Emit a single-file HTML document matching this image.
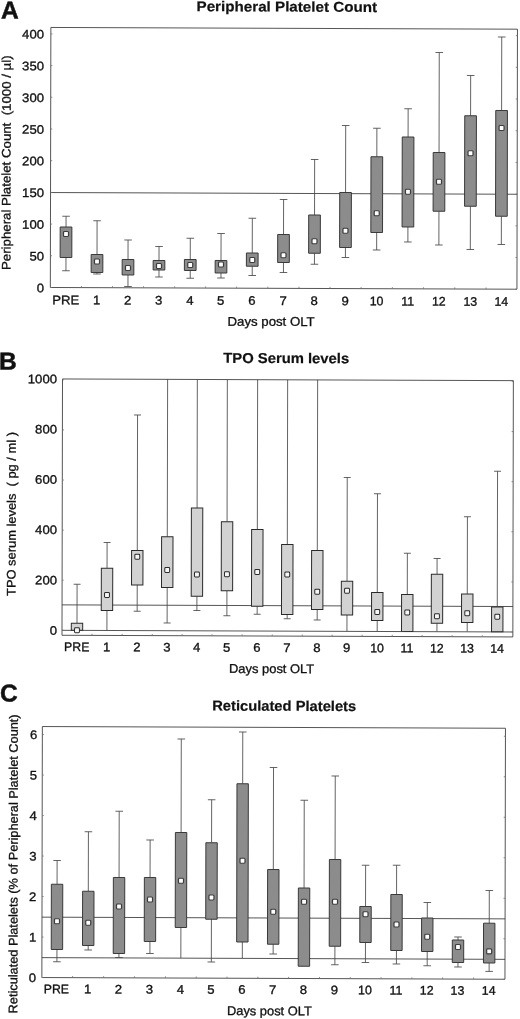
<!DOCTYPE html>
<html lang="en"><head><meta charset="utf-8"><title>Figure</title>
<style>
html,body{margin:0;padding:0;background:#fff;}
body{width:520px;height:1019px;overflow:hidden;}
svg{display:block;font-family:"Liberation Sans", Arial, Helvetica, sans-serif;fill:#111;}
text{stroke:#111;stroke-width:0.32px;}
text.b{font-weight:bold;stroke-width:0.2px;}
text.L{font-weight:bold;stroke-width:0.5px;}
</style></head><body>
<svg width="520" height="1019" viewBox="0 0 520 1019">
<rect x="0" y="0" width="520" height="1019" fill="#ffffff"/>
<g transform="matrix(1 0.0037 -0.002 1 1.0200 -0.9620)">
<text class="L" transform="translate(-0.08 19.36) scale(1 1)" font-size="24.5" text-anchor="start">A</text>
<text class="b" transform="translate(285.80 11.50)" font-size="14.3" text-anchor="middle" textLength="180.5" lengthAdjust="spacingAndGlyphs">Peripheral Platelet Count</text>
<line x1="49.90" y1="193.31" x2="516.50" y2="193.31" stroke="#363636" stroke-width="0.85"/>
<line x1="65.47" y1="216.97" x2="65.47" y2="227.72" stroke="#484848" stroke-width="0.85"/>
<line x1="61.67" y1="216.97" x2="69.27" y2="216.97" stroke="#484848" stroke-width="0.85"/>
<line x1="65.47" y1="258.22" x2="65.47" y2="271.47" stroke="#484848" stroke-width="0.85"/>
<line x1="61.67" y1="271.47" x2="69.27" y2="271.47" stroke="#484848" stroke-width="0.85"/>
<rect x="59.62" y="227.72" width="11.70" height="30.50" fill="#8c8c8c" stroke="#333" stroke-width="0.95"/>
<rect x="62.97" y="232.22" width="5.0" height="5.0" rx="0.9" fill="#fff" stroke="#3c3c3c" stroke-width="1.2"/>
<line x1="96.51" y1="221.36" x2="96.51" y2="255.10" stroke="#484848" stroke-width="0.85"/>
<line x1="92.71" y1="221.36" x2="100.31" y2="221.36" stroke="#484848" stroke-width="0.85"/>
<line x1="96.51" y1="273.10" x2="96.51" y2="274.60" stroke="#484848" stroke-width="0.85"/>
<line x1="92.71" y1="274.60" x2="100.31" y2="274.60" stroke="#484848" stroke-width="0.85"/>
<rect x="90.66" y="255.10" width="11.70" height="18.00" fill="#8c8c8c" stroke="#333" stroke-width="0.95"/>
<rect x="94.01" y="259.60" width="5.0" height="5.0" rx="0.9" fill="#fff" stroke="#3c3c3c" stroke-width="1.2"/>
<line x1="127.52" y1="240.49" x2="127.52" y2="259.99" stroke="#484848" stroke-width="0.85"/>
<line x1="123.72" y1="240.49" x2="131.32" y2="240.49" stroke="#484848" stroke-width="0.85"/>
<line x1="127.52" y1="275.49" x2="127.52" y2="286.99" stroke="#484848" stroke-width="0.85"/>
<line x1="123.72" y1="286.99" x2="131.32" y2="286.99" stroke="#484848" stroke-width="0.85"/>
<rect x="121.67" y="259.99" width="11.70" height="15.50" fill="#8c8c8c" stroke="#333" stroke-width="0.95"/>
<rect x="125.02" y="265.99" width="5.0" height="5.0" rx="0.9" fill="#fff" stroke="#3c3c3c" stroke-width="1.2"/>
<line x1="158.51" y1="246.88" x2="158.51" y2="260.88" stroke="#484848" stroke-width="0.85"/>
<line x1="154.71" y1="246.88" x2="162.31" y2="246.88" stroke="#484848" stroke-width="0.85"/>
<line x1="158.51" y1="270.38" x2="158.51" y2="277.38" stroke="#484848" stroke-width="0.85"/>
<line x1="154.71" y1="277.38" x2="162.31" y2="277.38" stroke="#484848" stroke-width="0.85"/>
<rect x="152.66" y="260.88" width="11.70" height="9.50" fill="#8c8c8c" stroke="#333" stroke-width="0.95"/>
<rect x="156.01" y="263.88" width="5.0" height="5.0" rx="0.9" fill="#fff" stroke="#3c3c3c" stroke-width="1.2"/>
<line x1="189.76" y1="238.51" x2="189.76" y2="259.76" stroke="#484848" stroke-width="0.85"/>
<line x1="185.96" y1="238.51" x2="193.56" y2="238.51" stroke="#484848" stroke-width="0.85"/>
<line x1="189.76" y1="270.76" x2="189.76" y2="278.51" stroke="#484848" stroke-width="0.85"/>
<line x1="185.96" y1="278.51" x2="193.56" y2="278.51" stroke="#484848" stroke-width="0.85"/>
<rect x="183.91" y="259.76" width="11.70" height="11.00" fill="#8c8c8c" stroke="#333" stroke-width="0.95"/>
<rect x="187.26" y="262.76" width="5.0" height="5.0" rx="0.9" fill="#fff" stroke="#3c3c3c" stroke-width="1.2"/>
<line x1="220.51" y1="233.65" x2="220.51" y2="260.65" stroke="#484848" stroke-width="0.85"/>
<line x1="216.71" y1="233.65" x2="224.31" y2="233.65" stroke="#484848" stroke-width="0.85"/>
<line x1="220.51" y1="273.15" x2="220.51" y2="278.15" stroke="#484848" stroke-width="0.85"/>
<line x1="216.71" y1="278.15" x2="224.31" y2="278.15" stroke="#484848" stroke-width="0.85"/>
<rect x="214.66" y="260.65" width="11.70" height="12.50" fill="#8c8c8c" stroke="#333" stroke-width="0.95"/>
<rect x="218.01" y="262.15" width="5.0" height="5.0" rx="0.9" fill="#fff" stroke="#3c3c3c" stroke-width="1.2"/>
<line x1="251.75" y1="218.28" x2="251.75" y2="253.03" stroke="#484848" stroke-width="0.85"/>
<line x1="247.95" y1="218.28" x2="255.55" y2="218.28" stroke="#484848" stroke-width="0.85"/>
<line x1="251.75" y1="266.28" x2="251.75" y2="275.53" stroke="#484848" stroke-width="0.85"/>
<line x1="247.95" y1="275.53" x2="255.55" y2="275.53" stroke="#484848" stroke-width="0.85"/>
<rect x="245.90" y="253.03" width="11.70" height="13.25" fill="#8c8c8c" stroke="#333" stroke-width="0.95"/>
<rect x="249.25" y="257.53" width="5.0" height="5.0" rx="0.9" fill="#fff" stroke="#3c3c3c" stroke-width="1.2"/>
<line x1="282.98" y1="199.42" x2="282.98" y2="234.42" stroke="#484848" stroke-width="0.85"/>
<line x1="279.18" y1="199.42" x2="286.78" y2="199.42" stroke="#484848" stroke-width="0.85"/>
<line x1="282.98" y1="262.41" x2="282.98" y2="272.41" stroke="#484848" stroke-width="0.85"/>
<line x1="279.18" y1="272.41" x2="286.78" y2="272.41" stroke="#484848" stroke-width="0.85"/>
<rect x="277.13" y="234.42" width="11.70" height="28.00" fill="#8c8c8c" stroke="#333" stroke-width="0.95"/>
<rect x="280.48" y="252.66" width="5.0" height="5.0" rx="0.9" fill="#fff" stroke="#3c3c3c" stroke-width="1.2"/>
<line x1="313.95" y1="159.30" x2="313.95" y2="214.80" stroke="#484848" stroke-width="0.85"/>
<line x1="310.15" y1="159.30" x2="317.75" y2="159.30" stroke="#484848" stroke-width="0.85"/>
<line x1="313.95" y1="253.05" x2="313.95" y2="264.05" stroke="#484848" stroke-width="0.85"/>
<line x1="310.15" y1="264.05" x2="317.75" y2="264.05" stroke="#484848" stroke-width="0.85"/>
<rect x="308.10" y="214.80" width="11.70" height="38.25" fill="#8c8c8c" stroke="#333" stroke-width="0.95"/>
<rect x="311.45" y="238.55" width="5.0" height="5.0" rx="0.9" fill="#fff" stroke="#3c3c3c" stroke-width="1.2"/>
<line x1="344.92" y1="125.19" x2="344.92" y2="192.19" stroke="#484848" stroke-width="0.85"/>
<line x1="341.12" y1="125.19" x2="348.72" y2="125.19" stroke="#484848" stroke-width="0.85"/>
<line x1="344.92" y1="247.19" x2="344.92" y2="257.19" stroke="#484848" stroke-width="0.85"/>
<line x1="341.12" y1="257.19" x2="348.72" y2="257.19" stroke="#484848" stroke-width="0.85"/>
<rect x="339.07" y="192.19" width="11.70" height="55.00" fill="#8c8c8c" stroke="#333" stroke-width="0.95"/>
<rect x="342.42" y="227.94" width="5.0" height="5.0" rx="0.9" fill="#fff" stroke="#3c3c3c" stroke-width="1.2"/>
<line x1="376.12" y1="127.82" x2="376.12" y2="156.32" stroke="#484848" stroke-width="0.85"/>
<line x1="372.32" y1="127.82" x2="379.92" y2="127.82" stroke="#484848" stroke-width="0.85"/>
<line x1="376.12" y1="232.07" x2="376.12" y2="249.57" stroke="#484848" stroke-width="0.85"/>
<line x1="372.32" y1="249.57" x2="379.92" y2="249.57" stroke="#484848" stroke-width="0.85"/>
<rect x="370.27" y="156.32" width="11.70" height="75.75" fill="#8c8c8c" stroke="#333" stroke-width="0.95"/>
<rect x="373.62" y="210.32" width="5.0" height="5.0" rx="0.9" fill="#fff" stroke="#3c3c3c" stroke-width="1.2"/>
<line x1="407.34" y1="108.21" x2="407.34" y2="136.46" stroke="#484848" stroke-width="0.85"/>
<line x1="403.54" y1="108.21" x2="411.14" y2="108.21" stroke="#484848" stroke-width="0.85"/>
<line x1="407.34" y1="226.45" x2="407.34" y2="241.45" stroke="#484848" stroke-width="0.85"/>
<line x1="403.54" y1="241.45" x2="411.14" y2="241.45" stroke="#484848" stroke-width="0.85"/>
<rect x="401.49" y="136.46" width="11.70" height="90.00" fill="#8c8c8c" stroke="#333" stroke-width="0.95"/>
<rect x="404.84" y="188.70" width="5.0" height="5.0" rx="0.9" fill="#fff" stroke="#3c3c3c" stroke-width="1.2"/>
<line x1="438.34" y1="51.84" x2="438.34" y2="151.84" stroke="#484848" stroke-width="0.85"/>
<line x1="434.54" y1="51.84" x2="442.14" y2="51.84" stroke="#484848" stroke-width="0.85"/>
<line x1="438.34" y1="210.59" x2="438.34" y2="244.34" stroke="#484848" stroke-width="0.85"/>
<line x1="434.54" y1="244.34" x2="442.14" y2="244.34" stroke="#484848" stroke-width="0.85"/>
<rect x="432.49" y="151.84" width="11.70" height="58.75" fill="#8c8c8c" stroke="#333" stroke-width="0.95"/>
<rect x="435.84" y="178.59" width="5.0" height="5.0" rx="0.9" fill="#fff" stroke="#3c3c3c" stroke-width="1.2"/>
<line x1="469.80" y1="74.72" x2="469.80" y2="114.97" stroke="#484848" stroke-width="0.85"/>
<line x1="466.00" y1="74.72" x2="473.60" y2="74.72" stroke="#484848" stroke-width="0.85"/>
<line x1="469.80" y1="205.47" x2="469.80" y2="248.72" stroke="#484848" stroke-width="0.85"/>
<line x1="466.00" y1="248.72" x2="473.60" y2="248.72" stroke="#484848" stroke-width="0.85"/>
<rect x="463.95" y="114.97" width="11.70" height="90.50" fill="#8c8c8c" stroke="#333" stroke-width="0.95"/>
<rect x="467.30" y="149.97" width="5.0" height="5.0" rx="0.9" fill="#fff" stroke="#3c3c3c" stroke-width="1.2"/>
<line x1="500.80" y1="36.11" x2="500.80" y2="109.61" stroke="#484848" stroke-width="0.85"/>
<line x1="497.00" y1="36.11" x2="504.60" y2="36.11" stroke="#484848" stroke-width="0.85"/>
<line x1="500.80" y1="215.36" x2="500.80" y2="243.61" stroke="#484848" stroke-width="0.85"/>
<line x1="497.00" y1="243.61" x2="504.60" y2="243.61" stroke="#484848" stroke-width="0.85"/>
<rect x="494.95" y="109.61" width="11.70" height="105.75" fill="#8c8c8c" stroke="#333" stroke-width="0.95"/>
<rect x="498.30" y="124.61" width="5.0" height="5.0" rx="0.9" fill="#fff" stroke="#3c3c3c" stroke-width="1.2"/>
<rect x="49.90" y="28.24" width="466.60" height="260.03" fill="none" stroke="#363636" stroke-width="0.85"/>
<text transform="translate(43.57 293.00) scale(1.06 1)" font-size="12.4" text-anchor="end">0</text>
<line x1="49.90" y1="288.27" x2="51.50" y2="288.27" stroke="#777" stroke-width="0.85"/>
<line x1="514.90" y1="288.27" x2="516.50" y2="288.27" stroke="#777" stroke-width="0.85"/>
<text transform="translate(43.50 261.30) scale(1.06 1)" font-size="12.4" text-anchor="end">50</text>
<line x1="49.90" y1="256.57" x2="51.50" y2="256.57" stroke="#777" stroke-width="0.85"/>
<line x1="514.90" y1="256.57" x2="516.50" y2="256.57" stroke="#777" stroke-width="0.85"/>
<text transform="translate(43.44 229.60) scale(1.06 1)" font-size="12.4" text-anchor="end">100</text>
<line x1="49.90" y1="224.87" x2="51.50" y2="224.87" stroke="#777" stroke-width="0.85"/>
<line x1="514.90" y1="224.87" x2="516.50" y2="224.87" stroke="#777" stroke-width="0.85"/>
<text transform="translate(43.38 197.90) scale(1.06 1)" font-size="12.4" text-anchor="end">150</text>
<line x1="49.90" y1="193.17" x2="51.50" y2="193.17" stroke="#777" stroke-width="0.85"/>
<line x1="514.90" y1="193.17" x2="516.50" y2="193.17" stroke="#777" stroke-width="0.85"/>
<text transform="translate(43.31 166.20) scale(1.06 1)" font-size="12.4" text-anchor="end">200</text>
<line x1="49.90" y1="161.47" x2="51.50" y2="161.47" stroke="#777" stroke-width="0.85"/>
<line x1="514.90" y1="161.47" x2="516.50" y2="161.47" stroke="#777" stroke-width="0.85"/>
<text transform="translate(43.25 134.50) scale(1.06 1)" font-size="12.4" text-anchor="end">250</text>
<line x1="49.90" y1="129.77" x2="51.50" y2="129.77" stroke="#777" stroke-width="0.85"/>
<line x1="514.90" y1="129.77" x2="516.50" y2="129.77" stroke="#777" stroke-width="0.85"/>
<text transform="translate(43.19 102.80) scale(1.06 1)" font-size="12.4" text-anchor="end">300</text>
<line x1="49.90" y1="98.07" x2="51.50" y2="98.07" stroke="#777" stroke-width="0.85"/>
<line x1="514.90" y1="98.07" x2="516.50" y2="98.07" stroke="#777" stroke-width="0.85"/>
<text transform="translate(43.12 71.10) scale(1.06 1)" font-size="12.4" text-anchor="end">350</text>
<line x1="49.90" y1="66.37" x2="51.50" y2="66.37" stroke="#777" stroke-width="0.85"/>
<line x1="514.90" y1="66.37" x2="516.50" y2="66.37" stroke="#777" stroke-width="0.85"/>
<text transform="translate(43.06 39.40) scale(1.06 1)" font-size="12.4" text-anchor="end">400</text>
<line x1="49.90" y1="34.67" x2="51.50" y2="34.67" stroke="#777" stroke-width="0.85"/>
<line x1="514.90" y1="34.67" x2="516.50" y2="34.67" stroke="#777" stroke-width="0.85"/>
<text transform="translate(65.29 304.90) scale(1.06 1)" font-size="12.4" text-anchor="middle">PRE</text>
<text transform="translate(96.29 304.90) scale(1.06 1)" font-size="12.4" text-anchor="middle">1</text>
<line x1="81.06" y1="286.67" x2="81.06" y2="288.27" stroke="#777" stroke-width="0.85"/>
<text transform="translate(127.29 304.90) scale(1.06 1)" font-size="12.4" text-anchor="middle">2</text>
<line x1="112.06" y1="286.67" x2="112.06" y2="288.27" stroke="#777" stroke-width="0.85"/>
<text transform="translate(158.29 304.90) scale(1.06 1)" font-size="12.4" text-anchor="middle">3</text>
<line x1="143.06" y1="286.67" x2="143.06" y2="288.27" stroke="#777" stroke-width="0.85"/>
<text transform="translate(189.54 304.90) scale(1.06 1)" font-size="12.4" text-anchor="middle">4</text>
<line x1="174.18" y1="286.67" x2="174.18" y2="288.27" stroke="#777" stroke-width="0.85"/>
<text transform="translate(220.29 304.90) scale(1.06 1)" font-size="12.4" text-anchor="middle">5</text>
<line x1="205.18" y1="286.67" x2="205.18" y2="288.27" stroke="#777" stroke-width="0.85"/>
<text transform="translate(251.54 304.90) scale(1.06 1)" font-size="12.4" text-anchor="middle">6</text>
<line x1="236.18" y1="286.67" x2="236.18" y2="288.27" stroke="#777" stroke-width="0.85"/>
<text transform="translate(282.79 304.90) scale(1.06 1)" font-size="12.4" text-anchor="middle">7</text>
<line x1="267.43" y1="286.67" x2="267.43" y2="288.27" stroke="#777" stroke-width="0.85"/>
<text transform="translate(313.79 304.90) scale(1.06 1)" font-size="12.4" text-anchor="middle">8</text>
<line x1="298.56" y1="286.67" x2="298.56" y2="288.27" stroke="#777" stroke-width="0.85"/>
<text transform="translate(344.79 304.90) scale(1.06 1)" font-size="12.4" text-anchor="middle">9</text>
<line x1="329.56" y1="286.67" x2="329.56" y2="288.27" stroke="#777" stroke-width="0.85"/>
<text transform="translate(376.14 304.90) scale(1.0 1)" font-size="12.4" text-anchor="middle">10</text>
<line x1="360.68" y1="286.67" x2="360.68" y2="288.27" stroke="#777" stroke-width="0.85"/>
<text transform="translate(407.39 304.90) scale(1.0 1)" font-size="12.4" text-anchor="middle">11</text>
<line x1="391.93" y1="286.67" x2="391.93" y2="288.27" stroke="#777" stroke-width="0.85"/>
<text transform="translate(438.39 304.90) scale(1.0 1)" font-size="12.4" text-anchor="middle">12</text>
<line x1="423.05" y1="286.67" x2="423.05" y2="288.27" stroke="#777" stroke-width="0.85"/>
<text transform="translate(469.89 304.90) scale(1.0 1)" font-size="12.4" text-anchor="middle">13</text>
<line x1="454.30" y1="286.67" x2="454.30" y2="288.27" stroke="#777" stroke-width="0.85"/>
<text transform="translate(500.89 304.90) scale(1.0 1)" font-size="12.4" text-anchor="middle">14</text>
<line x1="485.55" y1="286.67" x2="485.55" y2="288.27" stroke="#777" stroke-width="0.85"/>
<text transform="translate(270.73 325.76)" font-size="12.6" text-anchor="middle" textLength="87.2" lengthAdjust="spacingAndGlyphs">Days post OLT</text>
<text transform="translate(9.91 163.63) rotate(-90)" font-size="12.4" text-anchor="middle" textLength="214.6" lengthAdjust="spacingAndGlyphs">Peripheral Platelet Count&#160;&#160;(1000 / µl)</text>
<text class="L" transform="translate(-1.18 370.37) scale(1 1)" font-size="24.5" text-anchor="start">B</text>
<text class="b" transform="translate(285.91 363.00)" font-size="14.3" text-anchor="middle" textLength="126.0" lengthAdjust="spacingAndGlyphs">TPO Serum levels</text>
<line x1="62.25" y1="605.60" x2="513.10" y2="605.60" stroke="#363636" stroke-width="0.85"/>
<line x1="62.25" y1="631.05" x2="513.10" y2="631.05" stroke="#363636" stroke-width="0.85"/>
<line x1="77.23" y1="584.93" x2="77.23" y2="623.93" stroke="#484848" stroke-width="0.85"/>
<line x1="73.73" y1="584.93" x2="80.73" y2="584.93" stroke="#484848" stroke-width="0.85"/>
<rect x="71.53" y="623.93" width="11.40" height="7.05" fill="#d2d2d2" stroke="#2a2a2a" stroke-width="1.0"/>
<rect x="74.78" y="628.53" width="4.9" height="4.9" rx="0.9" fill="#f6f6f6" stroke="#2a2a2a" stroke-width="1.0"/>
<line x1="107.16" y1="543.07" x2="107.16" y2="568.82" stroke="#484848" stroke-width="0.85"/>
<line x1="103.66" y1="543.07" x2="110.66" y2="543.07" stroke="#484848" stroke-width="0.85"/>
<line x1="107.16" y1="611.07" x2="107.16" y2="630.97" stroke="#484848" stroke-width="0.85"/>
<rect x="101.46" y="568.82" width="11.40" height="42.25" fill="#d2d2d2" stroke="#2a2a2a" stroke-width="1.0"/>
<rect x="104.71" y="593.12" width="4.9" height="4.9" rx="0.9" fill="#f6f6f6" stroke="#2a2a2a" stroke-width="1.0"/>
<line x1="137.37" y1="415.45" x2="137.37" y2="550.95" stroke="#484848" stroke-width="0.85"/>
<line x1="133.87" y1="415.45" x2="140.87" y2="415.45" stroke="#484848" stroke-width="0.85"/>
<line x1="137.37" y1="585.45" x2="137.37" y2="611.70" stroke="#484848" stroke-width="0.85"/>
<line x1="133.87" y1="611.70" x2="140.87" y2="611.70" stroke="#484848" stroke-width="0.85"/>
<rect x="131.67" y="550.95" width="11.40" height="34.50" fill="#d2d2d2" stroke="#2a2a2a" stroke-width="1.0"/>
<rect x="134.92" y="554.75" width="4.9" height="4.9" rx="0.9" fill="#f6f6f6" stroke="#2a2a2a" stroke-width="1.0"/>
<line x1="167.35" y1="379.70" x2="167.35" y2="537.09" stroke="#484848" stroke-width="0.85"/>
<line x1="167.35" y1="587.84" x2="167.35" y2="623.34" stroke="#484848" stroke-width="0.85"/>
<line x1="163.85" y1="623.34" x2="170.85" y2="623.34" stroke="#484848" stroke-width="0.85"/>
<rect x="161.65" y="537.09" width="11.40" height="50.75" fill="#d2d2d2" stroke="#2a2a2a" stroke-width="1.0"/>
<rect x="164.90" y="567.89" width="4.9" height="4.9" rx="0.9" fill="#f6f6f6" stroke="#2a2a2a" stroke-width="1.0"/>
<line x1="197.08" y1="379.70" x2="197.08" y2="508.23" stroke="#484848" stroke-width="0.85"/>
<line x1="197.08" y1="596.48" x2="197.08" y2="610.73" stroke="#484848" stroke-width="0.85"/>
<line x1="193.58" y1="610.73" x2="200.58" y2="610.73" stroke="#484848" stroke-width="0.85"/>
<rect x="191.38" y="508.23" width="11.40" height="88.25" fill="#d2d2d2" stroke="#2a2a2a" stroke-width="1.0"/>
<rect x="194.63" y="572.28" width="4.9" height="4.9" rx="0.9" fill="#f6f6f6" stroke="#2a2a2a" stroke-width="1.0"/>
<line x1="227.09" y1="379.70" x2="227.09" y2="521.87" stroke="#484848" stroke-width="0.85"/>
<line x1="227.09" y1="590.87" x2="227.09" y2="615.87" stroke="#484848" stroke-width="0.85"/>
<line x1="223.59" y1="615.87" x2="230.59" y2="615.87" stroke="#484848" stroke-width="0.85"/>
<rect x="221.39" y="521.87" width="11.40" height="69.00" fill="#d2d2d2" stroke="#2a2a2a" stroke-width="1.0"/>
<rect x="224.64" y="571.92" width="4.9" height="4.9" rx="0.9" fill="#f6f6f6" stroke="#2a2a2a" stroke-width="1.0"/>
<line x1="257.37" y1="379.70" x2="257.37" y2="529.51" stroke="#484848" stroke-width="0.85"/>
<line x1="257.37" y1="606.26" x2="257.37" y2="614.26" stroke="#484848" stroke-width="0.85"/>
<line x1="253.87" y1="614.26" x2="260.87" y2="614.26" stroke="#484848" stroke-width="0.85"/>
<rect x="251.67" y="529.51" width="11.40" height="76.75" fill="#d2d2d2" stroke="#2a2a2a" stroke-width="1.0"/>
<rect x="254.92" y="569.56" width="4.9" height="4.9" rx="0.9" fill="#f6f6f6" stroke="#2a2a2a" stroke-width="1.0"/>
<line x1="287.39" y1="379.70" x2="287.39" y2="544.40" stroke="#484848" stroke-width="0.85"/>
<line x1="287.39" y1="614.40" x2="287.39" y2="618.65" stroke="#484848" stroke-width="0.85"/>
<line x1="283.89" y1="618.65" x2="290.89" y2="618.65" stroke="#484848" stroke-width="0.85"/>
<rect x="281.69" y="544.40" width="11.40" height="70.00" fill="#d2d2d2" stroke="#2a2a2a" stroke-width="1.0"/>
<rect x="284.94" y="571.95" width="4.9" height="4.9" rx="0.9" fill="#f6f6f6" stroke="#2a2a2a" stroke-width="1.0"/>
<line x1="317.39" y1="379.70" x2="317.39" y2="550.29" stroke="#484848" stroke-width="0.85"/>
<line x1="317.39" y1="609.29" x2="317.39" y2="619.79" stroke="#484848" stroke-width="0.85"/>
<line x1="313.89" y1="619.79" x2="320.89" y2="619.79" stroke="#484848" stroke-width="0.85"/>
<rect x="311.69" y="550.29" width="11.40" height="59.00" fill="#d2d2d2" stroke="#2a2a2a" stroke-width="1.0"/>
<rect x="314.94" y="589.09" width="4.9" height="4.9" rx="0.9" fill="#f6f6f6" stroke="#2a2a2a" stroke-width="1.0"/>
<line x1="347.18" y1="477.18" x2="347.18" y2="580.93" stroke="#484848" stroke-width="0.85"/>
<line x1="343.68" y1="477.18" x2="350.68" y2="477.18" stroke="#484848" stroke-width="0.85"/>
<line x1="347.18" y1="614.68" x2="347.18" y2="630.88" stroke="#484848" stroke-width="0.85"/>
<rect x="341.48" y="580.93" width="11.40" height="33.75" fill="#d2d2d2" stroke="#2a2a2a" stroke-width="1.0"/>
<rect x="344.73" y="587.98" width="4.9" height="4.9" rx="0.9" fill="#f6f6f6" stroke="#2a2a2a" stroke-width="1.0"/>
<line x1="377.44" y1="493.32" x2="377.44" y2="592.07" stroke="#484848" stroke-width="0.85"/>
<line x1="373.94" y1="493.32" x2="380.94" y2="493.32" stroke="#484848" stroke-width="0.85"/>
<line x1="377.44" y1="620.07" x2="377.44" y2="630.87" stroke="#484848" stroke-width="0.85"/>
<rect x="371.74" y="592.07" width="11.40" height="28.00" fill="#d2d2d2" stroke="#2a2a2a" stroke-width="1.0"/>
<rect x="374.99" y="609.12" width="4.9" height="4.9" rx="0.9" fill="#f6f6f6" stroke="#2a2a2a" stroke-width="1.0"/>
<line x1="407.45" y1="552.70" x2="407.45" y2="593.95" stroke="#484848" stroke-width="0.85"/>
<line x1="403.95" y1="552.70" x2="410.95" y2="552.70" stroke="#484848" stroke-width="0.85"/>
<rect x="401.75" y="593.95" width="11.40" height="36.90" fill="#d2d2d2" stroke="#2a2a2a" stroke-width="1.0"/>
<rect x="405.00" y="609.50" width="4.9" height="4.9" rx="0.9" fill="#f6f6f6" stroke="#2a2a2a" stroke-width="1.0"/>
<line x1="437.18" y1="557.84" x2="437.18" y2="573.59" stroke="#484848" stroke-width="0.85"/>
<line x1="433.68" y1="557.84" x2="440.68" y2="557.84" stroke="#484848" stroke-width="0.85"/>
<line x1="437.18" y1="622.59" x2="437.18" y2="630.84" stroke="#484848" stroke-width="0.85"/>
<rect x="431.48" y="573.59" width="11.40" height="49.00" fill="#d2d2d2" stroke="#2a2a2a" stroke-width="1.0"/>
<rect x="434.73" y="613.14" width="4.9" height="4.9" rx="0.9" fill="#f6f6f6" stroke="#2a2a2a" stroke-width="1.0"/>
<line x1="467.44" y1="515.98" x2="467.44" y2="593.23" stroke="#484848" stroke-width="0.85"/>
<line x1="463.94" y1="515.98" x2="470.94" y2="515.98" stroke="#484848" stroke-width="0.85"/>
<line x1="467.44" y1="621.73" x2="467.44" y2="630.83" stroke="#484848" stroke-width="0.85"/>
<rect x="461.74" y="593.23" width="11.40" height="28.50" fill="#d2d2d2" stroke="#2a2a2a" stroke-width="1.0"/>
<rect x="464.99" y="610.03" width="4.9" height="4.9" rx="0.9" fill="#f6f6f6" stroke="#2a2a2a" stroke-width="1.0"/>
<line x1="497.47" y1="470.37" x2="497.47" y2="606.12" stroke="#484848" stroke-width="0.85"/>
<line x1="493.97" y1="470.37" x2="500.97" y2="470.37" stroke="#484848" stroke-width="0.85"/>
<rect x="491.77" y="606.12" width="11.40" height="24.70" fill="#d2d2d2" stroke="#2a2a2a" stroke-width="1.0"/>
<rect x="495.02" y="613.42" width="4.9" height="4.9" rx="0.9" fill="#f6f6f6" stroke="#2a2a2a" stroke-width="1.0"/>
<rect x="62.25" y="379.70" width="450.85" height="256.30" fill="none" stroke="#363636" stroke-width="0.85"/>
<text transform="translate(57.25 635.50) scale(1.06 1)" font-size="12.4" text-anchor="end">0</text>
<line x1="62.25" y1="631.05" x2="63.85" y2="631.05" stroke="#777" stroke-width="0.85"/>
<line x1="511.50" y1="631.05" x2="513.10" y2="631.05" stroke="#777" stroke-width="0.85"/>
<text transform="translate(57.15 585.20) scale(1.06 1)" font-size="12.4" text-anchor="end">200</text>
<line x1="62.25" y1="580.95" x2="63.85" y2="580.95" stroke="#777" stroke-width="0.85"/>
<line x1="511.50" y1="580.95" x2="513.10" y2="580.95" stroke="#777" stroke-width="0.85"/>
<text transform="translate(57.05 534.90) scale(1.06 1)" font-size="12.4" text-anchor="end">400</text>
<line x1="62.25" y1="530.85" x2="63.85" y2="530.85" stroke="#777" stroke-width="0.85"/>
<line x1="511.50" y1="530.85" x2="513.10" y2="530.85" stroke="#777" stroke-width="0.85"/>
<text transform="translate(56.95 484.60) scale(1.06 1)" font-size="12.4" text-anchor="end">600</text>
<line x1="62.25" y1="480.75" x2="63.85" y2="480.75" stroke="#777" stroke-width="0.85"/>
<line x1="511.50" y1="480.75" x2="513.10" y2="480.75" stroke="#777" stroke-width="0.85"/>
<text transform="translate(56.85 434.30) scale(1.06 1)" font-size="12.4" text-anchor="end">800</text>
<line x1="62.25" y1="430.65" x2="63.85" y2="430.65" stroke="#777" stroke-width="0.85"/>
<line x1="511.50" y1="430.65" x2="513.10" y2="430.65" stroke="#777" stroke-width="0.85"/>
<text transform="translate(56.75 384.00) scale(1.06 1)" font-size="12.4" text-anchor="end">1000</text>
<line x1="62.25" y1="380.55" x2="63.85" y2="380.55" stroke="#777" stroke-width="0.85"/>
<line x1="511.50" y1="380.55" x2="513.10" y2="380.55" stroke="#777" stroke-width="0.85"/>
<text transform="translate(76.99 651.80) scale(0.99 1)" font-size="12.4" text-anchor="middle">PRE</text>
<text transform="translate(106.99 651.80) scale(1.06 1)" font-size="12.4" text-anchor="middle">1</text>
<line x1="92.25" y1="634.40" x2="92.25" y2="636.00" stroke="#777" stroke-width="0.85"/>
<text transform="translate(137.23 651.80) scale(1.06 1)" font-size="12.4" text-anchor="middle">2</text>
<line x1="122.38" y1="634.40" x2="122.38" y2="636.00" stroke="#777" stroke-width="0.85"/>
<text transform="translate(167.23 651.80) scale(1.06 1)" font-size="12.4" text-anchor="middle">3</text>
<line x1="152.50" y1="634.40" x2="152.50" y2="636.00" stroke="#777" stroke-width="0.85"/>
<text transform="translate(196.98 651.80) scale(1.06 1)" font-size="12.4" text-anchor="middle">4</text>
<line x1="182.38" y1="634.40" x2="182.38" y2="636.00" stroke="#777" stroke-width="0.85"/>
<text transform="translate(226.98 651.80) scale(1.06 1)" font-size="12.4" text-anchor="middle">5</text>
<line x1="212.25" y1="634.40" x2="212.25" y2="636.00" stroke="#777" stroke-width="0.85"/>
<text transform="translate(257.23 651.80) scale(1.06 1)" font-size="12.4" text-anchor="middle">6</text>
<line x1="242.38" y1="634.40" x2="242.38" y2="636.00" stroke="#777" stroke-width="0.85"/>
<text transform="translate(287.23 651.80) scale(1.06 1)" font-size="12.4" text-anchor="middle">7</text>
<line x1="272.50" y1="634.40" x2="272.50" y2="636.00" stroke="#777" stroke-width="0.85"/>
<text transform="translate(317.23 651.80) scale(1.06 1)" font-size="12.4" text-anchor="middle">8</text>
<line x1="302.50" y1="634.40" x2="302.50" y2="636.00" stroke="#777" stroke-width="0.85"/>
<text transform="translate(346.98 651.80) scale(1.06 1)" font-size="12.4" text-anchor="middle">9</text>
<line x1="332.38" y1="634.40" x2="332.38" y2="636.00" stroke="#777" stroke-width="0.85"/>
<text transform="translate(377.33 651.80) scale(1.0 1)" font-size="12.4" text-anchor="middle">10</text>
<line x1="362.38" y1="634.40" x2="362.38" y2="636.00" stroke="#777" stroke-width="0.85"/>
<text transform="translate(407.33 651.80) scale(1.0 1)" font-size="12.4" text-anchor="middle">11</text>
<line x1="392.50" y1="634.40" x2="392.50" y2="636.00" stroke="#777" stroke-width="0.85"/>
<text transform="translate(437.08 651.80) scale(1.0 1)" font-size="12.4" text-anchor="middle">12</text>
<line x1="422.38" y1="634.40" x2="422.38" y2="636.00" stroke="#777" stroke-width="0.85"/>
<text transform="translate(467.33 651.80) scale(1.0 1)" font-size="12.4" text-anchor="middle">13</text>
<line x1="452.38" y1="634.40" x2="452.38" y2="636.00" stroke="#777" stroke-width="0.85"/>
<text transform="translate(497.33 651.80) scale(1.0 1)" font-size="12.4" text-anchor="middle">14</text>
<line x1="482.50" y1="634.40" x2="482.50" y2="636.00" stroke="#777" stroke-width="0.85"/>
<text transform="translate(271.93 672.96)" font-size="12.6" text-anchor="middle" textLength="85.2" lengthAdjust="spacingAndGlyphs">Days post OLT</text>
<text transform="translate(15.71 514.90) rotate(-90)" font-size="12.4" text-anchor="middle" textLength="164.0" lengthAdjust="spacingAndGlyphs">TPO serum levels&#160;&#160;( pg / ml )</text>
<text class="L" transform="translate(0.48 702.36) scale(1 1)" font-size="24.5" text-anchor="start">C</text>
<text class="b" transform="translate(284.60 710.71)" font-size="14.3" text-anchor="middle" textLength="144.0" lengthAdjust="spacingAndGlyphs">Reticulated Platelets</text>
<line x1="42.80" y1="917.95" x2="505.90" y2="917.95" stroke="#363636" stroke-width="0.85"/>
<line x1="42.80" y1="958.44" x2="505.90" y2="958.44" stroke="#363636" stroke-width="0.85"/>
<line x1="57.82" y1="861.25" x2="57.82" y2="885.00" stroke="#484848" stroke-width="0.85"/>
<line x1="54.02" y1="861.25" x2="61.62" y2="861.25" stroke="#484848" stroke-width="0.85"/>
<line x1="57.82" y1="950.25" x2="57.82" y2="962.50" stroke="#484848" stroke-width="0.85"/>
<line x1="54.02" y1="962.50" x2="61.62" y2="962.50" stroke="#484848" stroke-width="0.85"/>
<rect x="52.12" y="885.00" width="11.40" height="65.25" fill="#8c8c8c" stroke="#333" stroke-width="0.95"/>
<rect x="55.32" y="919.50" width="5.0" height="5.0" rx="0.9" fill="#fff" stroke="#3c3c3c" stroke-width="1.2"/>
<line x1="89.07" y1="832.38" x2="89.07" y2="891.88" stroke="#484848" stroke-width="0.85"/>
<line x1="85.27" y1="832.38" x2="92.87" y2="832.38" stroke="#484848" stroke-width="0.85"/>
<line x1="89.07" y1="946.13" x2="89.07" y2="950.63" stroke="#484848" stroke-width="0.85"/>
<line x1="85.27" y1="950.63" x2="92.87" y2="950.63" stroke="#484848" stroke-width="0.85"/>
<rect x="83.37" y="891.88" width="11.40" height="54.25" fill="#8c8c8c" stroke="#333" stroke-width="0.95"/>
<rect x="86.57" y="920.88" width="5.0" height="5.0" rx="0.9" fill="#fff" stroke="#3c3c3c" stroke-width="1.2"/>
<line x1="119.81" y1="811.77" x2="119.81" y2="878.02" stroke="#484848" stroke-width="0.85"/>
<line x1="116.01" y1="811.77" x2="123.61" y2="811.77" stroke="#484848" stroke-width="0.85"/>
<line x1="119.81" y1="954.02" x2="119.81" y2="958.02" stroke="#484848" stroke-width="0.85"/>
<line x1="116.01" y1="958.02" x2="123.61" y2="958.02" stroke="#484848" stroke-width="0.85"/>
<rect x="114.11" y="878.02" width="11.40" height="76.00" fill="#8c8c8c" stroke="#333" stroke-width="0.95"/>
<rect x="117.31" y="904.52" width="5.0" height="5.0" rx="0.9" fill="#fff" stroke="#3c3c3c" stroke-width="1.2"/>
<line x1="150.80" y1="840.40" x2="150.80" y2="877.90" stroke="#484848" stroke-width="0.85"/>
<line x1="147.00" y1="840.40" x2="154.60" y2="840.40" stroke="#484848" stroke-width="0.85"/>
<line x1="150.80" y1="941.90" x2="150.80" y2="953.90" stroke="#484848" stroke-width="0.85"/>
<line x1="147.00" y1="953.90" x2="154.60" y2="953.90" stroke="#484848" stroke-width="0.85"/>
<rect x="145.10" y="877.90" width="11.40" height="64.00" fill="#8c8c8c" stroke="#333" stroke-width="0.95"/>
<rect x="148.30" y="897.40" width="5.0" height="5.0" rx="0.9" fill="#fff" stroke="#3c3c3c" stroke-width="1.2"/>
<line x1="181.74" y1="739.29" x2="181.74" y2="832.79" stroke="#484848" stroke-width="0.85"/>
<line x1="177.94" y1="739.29" x2="185.54" y2="739.29" stroke="#484848" stroke-width="0.85"/>
<line x1="181.74" y1="927.79" x2="181.74" y2="958.29" stroke="#484848" stroke-width="0.85"/>
<rect x="176.04" y="832.79" width="11.40" height="95.00" fill="#8c8c8c" stroke="#333" stroke-width="0.95"/>
<rect x="179.24" y="878.54" width="5.0" height="5.0" rx="0.9" fill="#fff" stroke="#3c3c3c" stroke-width="1.2"/>
<line x1="212.24" y1="799.93" x2="212.24" y2="842.93" stroke="#484848" stroke-width="0.85"/>
<line x1="208.44" y1="799.93" x2="216.04" y2="799.93" stroke="#484848" stroke-width="0.85"/>
<line x1="212.24" y1="919.43" x2="212.24" y2="962.18" stroke="#484848" stroke-width="0.85"/>
<line x1="208.44" y1="962.18" x2="216.04" y2="962.18" stroke="#484848" stroke-width="0.85"/>
<rect x="206.54" y="842.93" width="11.40" height="76.50" fill="#8c8c8c" stroke="#333" stroke-width="0.95"/>
<rect x="209.74" y="895.18" width="5.0" height="5.0" rx="0.9" fill="#fff" stroke="#3c3c3c" stroke-width="1.2"/>
<line x1="243.21" y1="732.06" x2="243.21" y2="783.81" stroke="#484848" stroke-width="0.85"/>
<line x1="239.41" y1="732.06" x2="247.01" y2="732.06" stroke="#484848" stroke-width="0.85"/>
<line x1="243.21" y1="942.06" x2="243.21" y2="958.31" stroke="#484848" stroke-width="0.85"/>
<rect x="237.51" y="783.81" width="11.40" height="158.25" fill="#8c8c8c" stroke="#333" stroke-width="0.95"/>
<rect x="240.71" y="858.31" width="5.0" height="5.0" rx="0.9" fill="#fff" stroke="#3c3c3c" stroke-width="1.2"/>
<line x1="274.04" y1="767.45" x2="274.04" y2="869.45" stroke="#484848" stroke-width="0.85"/>
<line x1="270.24" y1="767.45" x2="277.84" y2="767.45" stroke="#484848" stroke-width="0.85"/>
<line x1="274.04" y1="944.20" x2="274.04" y2="953.95" stroke="#484848" stroke-width="0.85"/>
<line x1="270.24" y1="953.95" x2="277.84" y2="953.95" stroke="#484848" stroke-width="0.85"/>
<rect x="268.34" y="869.45" width="11.40" height="74.75" fill="#8c8c8c" stroke="#333" stroke-width="0.95"/>
<rect x="271.54" y="909.20" width="5.0" height="5.0" rx="0.9" fill="#fff" stroke="#3c3c3c" stroke-width="1.2"/>
<line x1="304.83" y1="800.09" x2="304.83" y2="887.83" stroke="#484848" stroke-width="0.85"/>
<line x1="301.03" y1="800.09" x2="308.63" y2="800.09" stroke="#484848" stroke-width="0.85"/>
<rect x="299.13" y="887.83" width="11.40" height="78.25" fill="#8c8c8c" stroke="#333" stroke-width="0.95"/>
<rect x="302.33" y="899.08" width="5.0" height="5.0" rx="0.9" fill="#fff" stroke="#3c3c3c" stroke-width="1.2"/>
<line x1="335.79" y1="775.72" x2="335.79" y2="859.22" stroke="#484848" stroke-width="0.85"/>
<line x1="331.99" y1="775.72" x2="339.59" y2="775.72" stroke="#484848" stroke-width="0.85"/>
<line x1="335.79" y1="945.97" x2="335.79" y2="964.47" stroke="#484848" stroke-width="0.85"/>
<line x1="331.99" y1="964.47" x2="339.59" y2="964.47" stroke="#484848" stroke-width="0.85"/>
<rect x="330.09" y="859.22" width="11.40" height="86.75" fill="#8c8c8c" stroke="#333" stroke-width="0.95"/>
<rect x="333.29" y="898.97" width="5.0" height="5.0" rx="0.9" fill="#fff" stroke="#3c3c3c" stroke-width="1.2"/>
<line x1="366.33" y1="864.86" x2="366.33" y2="906.11" stroke="#484848" stroke-width="0.85"/>
<line x1="362.53" y1="864.86" x2="370.13" y2="864.86" stroke="#484848" stroke-width="0.85"/>
<line x1="366.33" y1="942.11" x2="366.33" y2="962.11" stroke="#484848" stroke-width="0.85"/>
<line x1="362.53" y1="962.11" x2="370.13" y2="962.11" stroke="#484848" stroke-width="0.85"/>
<rect x="360.63" y="906.11" width="11.40" height="36.00" fill="#8c8c8c" stroke="#333" stroke-width="0.95"/>
<rect x="363.83" y="911.36" width="5.0" height="5.0" rx="0.9" fill="#fff" stroke="#3c3c3c" stroke-width="1.2"/>
<line x1="397.32" y1="864.74" x2="397.32" y2="893.99" stroke="#484848" stroke-width="0.85"/>
<line x1="393.52" y1="864.74" x2="401.12" y2="864.74" stroke="#484848" stroke-width="0.85"/>
<line x1="397.32" y1="949.99" x2="397.32" y2="963.49" stroke="#484848" stroke-width="0.85"/>
<line x1="393.52" y1="963.49" x2="401.12" y2="963.49" stroke="#484848" stroke-width="0.85"/>
<rect x="391.62" y="893.99" width="11.40" height="56.00" fill="#8c8c8c" stroke="#333" stroke-width="0.95"/>
<rect x="394.82" y="921.49" width="5.0" height="5.0" rx="0.9" fill="#fff" stroke="#3c3c3c" stroke-width="1.2"/>
<line x1="428.10" y1="901.88" x2="428.10" y2="917.38" stroke="#484848" stroke-width="0.85"/>
<line x1="424.30" y1="901.88" x2="431.90" y2="901.88" stroke="#484848" stroke-width="0.85"/>
<line x1="428.10" y1="950.88" x2="428.10" y2="965.13" stroke="#484848" stroke-width="0.85"/>
<line x1="424.30" y1="965.13" x2="431.90" y2="965.13" stroke="#484848" stroke-width="0.85"/>
<rect x="422.40" y="917.38" width="11.40" height="33.50" fill="#8c8c8c" stroke="#333" stroke-width="0.95"/>
<rect x="425.60" y="933.63" width="5.0" height="5.0" rx="0.9" fill="#fff" stroke="#3c3c3c" stroke-width="1.2"/>
<line x1="458.88" y1="936.26" x2="458.88" y2="939.26" stroke="#484848" stroke-width="0.85"/>
<line x1="455.08" y1="936.26" x2="462.68" y2="936.26" stroke="#484848" stroke-width="0.85"/>
<line x1="458.88" y1="961.76" x2="458.88" y2="966.26" stroke="#484848" stroke-width="0.85"/>
<line x1="455.08" y1="966.26" x2="462.68" y2="966.26" stroke="#484848" stroke-width="0.85"/>
<rect x="453.18" y="939.26" width="11.40" height="22.50" fill="#8c8c8c" stroke="#333" stroke-width="0.95"/>
<rect x="456.38" y="943.76" width="5.0" height="5.0" rx="0.9" fill="#fff" stroke="#3c3c3c" stroke-width="1.2"/>
<line x1="490.06" y1="889.65" x2="490.06" y2="922.35" stroke="#484848" stroke-width="0.85"/>
<line x1="486.26" y1="889.65" x2="493.86" y2="889.65" stroke="#484848" stroke-width="0.85"/>
<line x1="490.06" y1="962.15" x2="490.06" y2="970.55" stroke="#484848" stroke-width="0.85"/>
<line x1="486.26" y1="970.55" x2="493.86" y2="970.55" stroke="#484848" stroke-width="0.85"/>
<rect x="484.36" y="922.35" width="11.40" height="39.80" fill="#8c8c8c" stroke="#333" stroke-width="0.95"/>
<rect x="487.56" y="947.95" width="5.0" height="5.0" rx="0.9" fill="#fff" stroke="#3c3c3c" stroke-width="1.2"/>
<rect x="42.80" y="727.35" width="463.10" height="251.00" fill="none" stroke="#363636" stroke-width="0.85"/>
<text transform="translate(36.95 982.78) scale(1.06 1)" font-size="12.4" text-anchor="end">0</text>
<line x1="42.80" y1="978.35" x2="44.40" y2="978.35" stroke="#777" stroke-width="0.85"/>
<line x1="504.30" y1="978.35" x2="505.90" y2="978.35" stroke="#777" stroke-width="0.85"/>
<text transform="translate(37.08 942.27) scale(1.06 1)" font-size="12.4" text-anchor="end">1</text>
<line x1="42.80" y1="937.85" x2="44.40" y2="937.85" stroke="#777" stroke-width="0.85"/>
<line x1="504.30" y1="937.85" x2="505.90" y2="937.85" stroke="#777" stroke-width="0.85"/>
<text transform="translate(37.22 901.77) scale(1.06 1)" font-size="12.4" text-anchor="end">2</text>
<line x1="42.80" y1="897.35" x2="44.40" y2="897.35" stroke="#777" stroke-width="0.85"/>
<line x1="504.30" y1="897.35" x2="505.90" y2="897.35" stroke="#777" stroke-width="0.85"/>
<text transform="translate(37.36 861.27) scale(1.06 1)" font-size="12.4" text-anchor="end">3</text>
<line x1="42.80" y1="856.85" x2="44.40" y2="856.85" stroke="#777" stroke-width="0.85"/>
<line x1="504.30" y1="856.85" x2="505.90" y2="856.85" stroke="#777" stroke-width="0.85"/>
<text transform="translate(37.50 820.77) scale(1.06 1)" font-size="12.4" text-anchor="end">4</text>
<line x1="42.80" y1="816.35" x2="44.40" y2="816.35" stroke="#777" stroke-width="0.85"/>
<line x1="504.30" y1="816.35" x2="505.90" y2="816.35" stroke="#777" stroke-width="0.85"/>
<text transform="translate(37.64 780.27) scale(1.06 1)" font-size="12.4" text-anchor="end">5</text>
<line x1="42.80" y1="775.85" x2="44.40" y2="775.85" stroke="#777" stroke-width="0.85"/>
<line x1="504.30" y1="775.85" x2="505.90" y2="775.85" stroke="#777" stroke-width="0.85"/>
<text transform="translate(37.78 739.77) scale(1.06 1)" font-size="12.4" text-anchor="end">6</text>
<line x1="42.80" y1="735.35" x2="44.40" y2="735.35" stroke="#777" stroke-width="0.85"/>
<line x1="504.30" y1="735.35" x2="505.90" y2="735.35" stroke="#777" stroke-width="0.85"/>
<text transform="translate(57.37 993.95) scale(0.99 1)" font-size="12.4" text-anchor="middle">PRE</text>
<text transform="translate(88.62 993.95) scale(1.06 1)" font-size="12.4" text-anchor="middle">1</text>
<line x1="73.56" y1="976.75" x2="73.56" y2="978.35" stroke="#777" stroke-width="0.85"/>
<text transform="translate(119.37 993.95) scale(1.06 1)" font-size="12.4" text-anchor="middle">2</text>
<line x1="104.56" y1="976.75" x2="104.56" y2="978.35" stroke="#777" stroke-width="0.85"/>
<text transform="translate(150.37 993.95) scale(1.06 1)" font-size="12.4" text-anchor="middle">3</text>
<line x1="135.44" y1="976.75" x2="135.44" y2="978.35" stroke="#777" stroke-width="0.85"/>
<text transform="translate(181.37 993.95) scale(1.06 1)" font-size="12.4" text-anchor="middle">4</text>
<line x1="166.44" y1="976.75" x2="166.44" y2="978.35" stroke="#777" stroke-width="0.85"/>
<text transform="translate(211.87 993.95) scale(1.06 1)" font-size="12.4" text-anchor="middle">5</text>
<line x1="197.19" y1="976.75" x2="197.19" y2="978.35" stroke="#777" stroke-width="0.85"/>
<text transform="translate(242.87 993.95) scale(1.06 1)" font-size="12.4" text-anchor="middle">6</text>
<line x1="227.94" y1="976.75" x2="227.94" y2="978.35" stroke="#777" stroke-width="0.85"/>
<text transform="translate(273.62 993.95) scale(1.06 1)" font-size="12.4" text-anchor="middle">7</text>
<line x1="258.81" y1="976.75" x2="258.81" y2="978.35" stroke="#777" stroke-width="0.85"/>
<text transform="translate(304.37 993.95) scale(1.06 1)" font-size="12.4" text-anchor="middle">8</text>
<line x1="289.56" y1="976.75" x2="289.56" y2="978.35" stroke="#777" stroke-width="0.85"/>
<text transform="translate(335.37 993.95) scale(1.06 1)" font-size="12.4" text-anchor="middle">9</text>
<line x1="320.44" y1="976.75" x2="320.44" y2="978.35" stroke="#777" stroke-width="0.85"/>
<text transform="translate(365.97 993.95) scale(1.0 1)" font-size="12.4" text-anchor="middle">10</text>
<line x1="351.19" y1="976.75" x2="351.19" y2="978.35" stroke="#777" stroke-width="0.85"/>
<text transform="translate(396.97 993.95) scale(1.0 1)" font-size="12.4" text-anchor="middle">11</text>
<line x1="381.94" y1="976.75" x2="381.94" y2="978.35" stroke="#777" stroke-width="0.85"/>
<text transform="translate(427.72 993.95) scale(1.0 1)" font-size="12.4" text-anchor="middle">12</text>
<line x1="412.81" y1="976.75" x2="412.81" y2="978.35" stroke="#777" stroke-width="0.85"/>
<text transform="translate(458.47 993.95) scale(1.0 1)" font-size="12.4" text-anchor="middle">13</text>
<line x1="443.56" y1="976.75" x2="443.56" y2="978.35" stroke="#777" stroke-width="0.85"/>
<text transform="translate(489.67 993.95) scale(1.0 1)" font-size="12.4" text-anchor="middle">14</text>
<line x1="474.53" y1="976.75" x2="474.53" y2="978.35" stroke="#777" stroke-width="0.85"/>
<text transform="translate(270.41 1015.16)" font-size="12.6" text-anchor="middle" textLength="84.8" lengthAdjust="spacingAndGlyphs">Days post OLT</text>
<text transform="translate(18.31 864.79) rotate(-90)" font-size="12.4" text-anchor="middle" textLength="299.0" lengthAdjust="spacingAndGlyphs">Reticulated Platelets (% of Peripheral Platelet Count)</text>
</g>
</svg>
</body></html>
